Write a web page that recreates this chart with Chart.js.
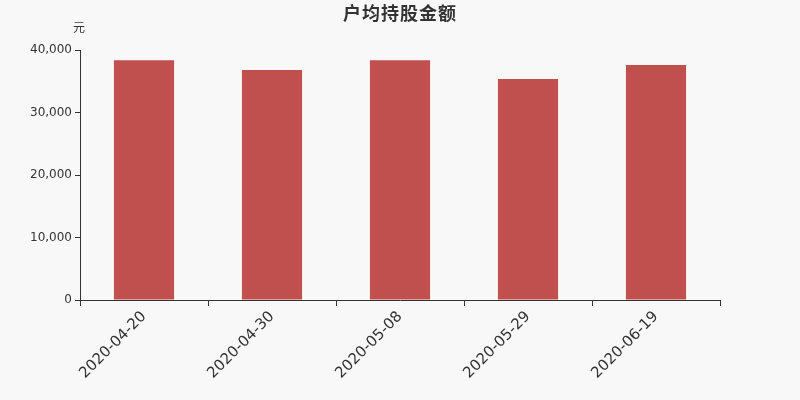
<!DOCTYPE html>
<html>
<head>
<meta charset="utf-8">
<script src="https://cdn.jsdelivr.net/npm/chart.js@4"></script>
<style>
  html, body { margin: 0; padding: 0; background: #f8f8f8; }
  #wrap { width: 800px; height: 400px; }
</style>
</head>
<body>
<div id="wrap"><canvas id="barChart"></canvas></div>
<script>
// data
var dates = ["2020-04-20", "2020-04-30", "2020-05-08", "2020-05-29", "2020-06-19"];
var avgHolding = [38350, 36800, 38350, 35350, 37600];
var yTicks = [0, 10000, 20000, 30000, 40000];

var FONT = "'DejaVu Sans', 'Noto Sans CJK SC', sans-serif";

// title and unit label
var textPlugin = {
    id: 'texts',
    afterDraw: function (chart) {
        var c = chart.ctx;
        c.save();
        c.fillStyle = '#333';
        c.textAlign = 'center';
        c.textBaseline = 'middle';
        c.font = "bold 18px " + FONT;
        c.letterSpacing = '1px';
        c.fillText("户均持股金额", 400, 15);
        c.letterSpacing = '0px';
        c.font = "12px " + FONT;
        c.fillText("元", 79, 29);
        c.restore();
    }
};

var ctx = document.getElementById("barChart");
var barChart = new Chart(ctx, {
    type: 'bar',
    data: {
        labels: dates,
        datasets: [{
            label: '户均持股金额',
            backgroundColor: "#c0504e",
            data: avgHolding,
            categoryPercentage: 1,
            barPercentage: 0.47
        }]
    },
    options: {
        responsive: true,
        maintainAspectRatio: false,
        animation: false,
        layout: { padding: { top: 50, left: 0, right: 80, bottom: 0 } },
        plugins: {
            legend: { display: false },
            title: { display: false },
            tooltip: { enabled: false }
        },
        scales: {
            x: {
                grid: { drawOnChartArea: false, drawTicks: true, tickLength: 6, color: '#333', offset: true },
                border: { display: true, color: '#333' },
                ticks: {
                    color: '#333',
                    font: { family: FONT, size: 15 },
                    maxRotation: 45,
                    minRotation: 45,
                    padding: 2
                },
                afterFit: function (scale) { scale.height = 100; }
            },
            y: {
                min: 0,
                max: 40000,
                afterBuildTicks: function (scale) {
                    scale.ticks = yTicks.map(function (v) { return { value: v }; });
                },
                grid: { drawOnChartArea: false, drawTicks: true, tickLength: 5, color: '#333' },
                border: { display: true, color: '#333' },
                ticks: {
                    color: '#333',
                    font: { family: FONT, size: 12 },
                    padding: 3,
                    callback: function (v) { return v.toLocaleString('en-US'); }
                },
                afterFit: function (scale) { scale.width = 80; }
            }
        }
    },
    plugins: [textPlugin]
});
</script>
</body>
</html>
